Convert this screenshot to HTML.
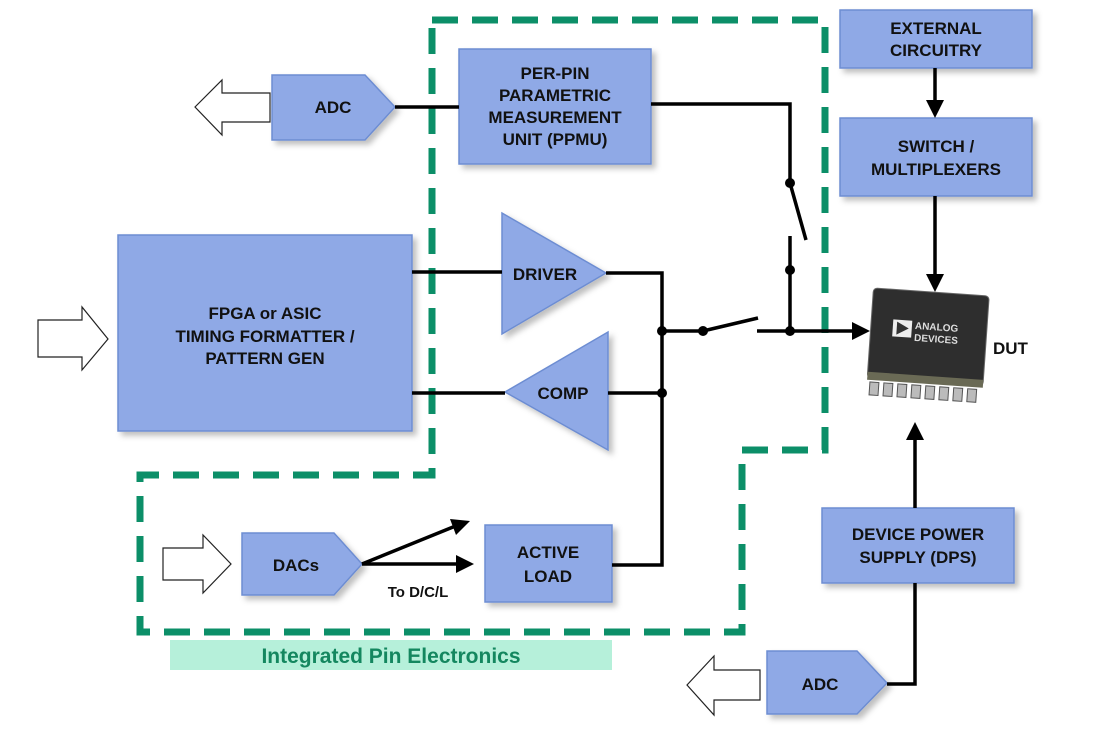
<!DOCTYPE html>
<html><head><meta charset="utf-8"><style>
html,body{margin:0;padding:0;background:#fff;}
svg{display:block;}
text{font-family:"Liberation Sans",Arial,sans-serif;font-weight:bold;fill:#111;}
</style></head><body>
<svg width="1094" height="730" viewBox="0 0 1094 730" xmlns="http://www.w3.org/2000/svg">
<defs>
<filter id="sh" x="-10%" y="-10%" width="130%" height="130%"><feDropShadow dx="4" dy="4" stdDeviation="3" flood-color="#000" flood-opacity="0.25"/></filter>
</defs>

<path d="M432,20 L825,20 L825,450 L742,450 L742,632 L140,632 L140,475 L432,475 Z" fill="none" stroke="#0c8f68" stroke-width="7" stroke-dasharray="26,14"/>

<rect x="170" y="640" width="442" height="30" fill="#b6f0da"/>
<text x="391" y="663" font-size="21" text-anchor="middle" style="fill:#14875f">Integrated Pin Electronics</text>

<g fill="#8fa9e6" stroke="#6d8dd2" stroke-width="1.5" filter="url(#sh)">
<rect x="459" y="49" width="192" height="115"/>
<rect x="118" y="235" width="294" height="196"/>
<rect x="840" y="10" width="192" height="58"/>
<rect x="840" y="118" width="192" height="78"/>
<rect x="822" y="508" width="192" height="75"/>
<rect x="485" y="525" width="127" height="77"/>
<polygon points="272,75 365,75 395,107 365,140 272,140"/>
<polygon points="242,533 334,533 362,564 334,595 242,595"/>
<polygon points="767,651 857,651 887,683 857,714 767,714"/>
<polygon points="502,213 502,334 606,273"/>
<polygon points="608,332 608,450 505,392"/>
</g>

<g fill="#fff" stroke="#222" stroke-width="1.2">
<polygon points="195,107 222,80 222,93 270,93 270,122 222,122 222,135"/>
<polygon points="38,320 82,320 82,307 108,339 82,370 82,357 38,357"/>
<polygon points="163,548 203,548 203,535 231,564 203,593 203,580 163,580"/>
<polygon points="687,685 714,656 714,670 760,670 760,700 714,700 714,715"/>
</g>

<g stroke="#000" stroke-width="3.5" fill="none">
<line x1="395" y1="107" x2="459" y2="107"/>
<polyline points="651,104 790,104 790,183"/>
<line x1="790" y1="183" x2="806" y2="240"/>
<line x1="790" y1="236" x2="790" y2="331"/>
<line x1="412" y1="272" x2="502" y2="272"/>
<polyline points="606,273 662,273 662,565 612,565"/>
<line x1="608" y1="393" x2="662" y2="393"/>
<line x1="412" y1="393" x2="505" y2="393"/>
<line x1="662" y1="331" x2="703" y2="331"/>
<line x1="703" y1="331" x2="758" y2="318"/>
<line x1="757" y1="331" x2="858" y2="331"/>
<line x1="935" y1="68" x2="935" y2="106"/>
<line x1="935" y1="196" x2="935" y2="280"/>
<line x1="915" y1="440" x2="915" y2="508"/>
<polyline points="915,583 915,684 887,684"/>
<line x1="362" y1="564" x2="458" y2="525"/>
<line x1="362" y1="564" x2="462" y2="564"/>
</g>
<g fill="#000">
<polygon points="870,331 852,322 852,340"/>
<polygon points="935,118 926,100 944,100"/>
<polygon points="935,292 926,274 944,274"/>
<polygon points="915,422 906,440 924,440"/>
<polygon points="470,521 450,519 456,535"/>
<polygon points="474,564 456,555 456,573"/>
<circle cx="790" cy="183" r="5"/><circle cx="790" cy="270" r="5"/><circle cx="790" cy="331" r="5"/>
<circle cx="662" cy="331" r="5"/><circle cx="662" cy="393" r="5"/><circle cx="703" cy="331" r="5"/>
</g>

<g transform="rotate(4 930 340)">
<rect x="870" y="292" width="116" height="90" rx="4" fill="#2e2e2e" stroke="#666"/>
<rect x="870" y="376" width="116" height="8" fill="#6a6a55"/>
<g fill="#bbb" stroke="#555">
<rect x="873" y="386" width="9" height="13"/><rect x="887" y="386" width="9" height="13"/><rect x="901" y="386" width="9" height="13"/><rect x="915" y="386" width="9" height="13"/><rect x="929" y="386" width="9" height="13"/><rect x="943" y="386" width="9" height="13"/><rect x="957" y="386" width="9" height="13"/><rect x="971" y="386" width="9" height="13"/>
</g>
<rect x="892" y="322" width="19" height="17" fill="#eee"/>
<polygon points="896,324 896,337 908,330" fill="#333"/>
<text x="914" y="330" font-size="10" style="fill:#ddd">ANALOG</text>
<text x="914" y="342" font-size="10" style="fill:#ddd">DEVICES</text>
</g>
<text x="993" y="354" font-size="17">DUT</text>

<g font-size="17" text-anchor="middle">
<text x="333" y="113">ADC</text>
<text x="555" y="79">PER-PIN</text>
<text x="555" y="101">PARAMETRIC</text>
<text x="555" y="123">MEASUREMENT</text>
<text x="555" y="145">UNIT (PPMU)</text>
<text x="265" y="319">FPGA or ASIC</text>
<text x="265" y="342">TIMING FORMATTER /</text>
<text x="265" y="364">PATTERN GEN</text>
<text x="936" y="34">EXTERNAL</text>
<text x="936" y="56">CIRCUITRY</text>
<text x="936" y="152">SWITCH /</text>
<text x="936" y="175">MULTIPLEXERS</text>
<text x="918" y="540">DEVICE POWER</text>
<text x="918" y="563">SUPPLY (DPS)</text>
<text x="548" y="558">ACTIVE</text>
<text x="548" y="582">LOAD</text>
<text x="296" y="571">DACs</text>
<text x="820" y="690">ADC</text>
<text x="545" y="280">DRIVER</text>
<text x="563" y="399">COMP</text>
<text x="418" y="597" font-size="15">To D/C/L</text>
</g>
</svg>
</body></html>
